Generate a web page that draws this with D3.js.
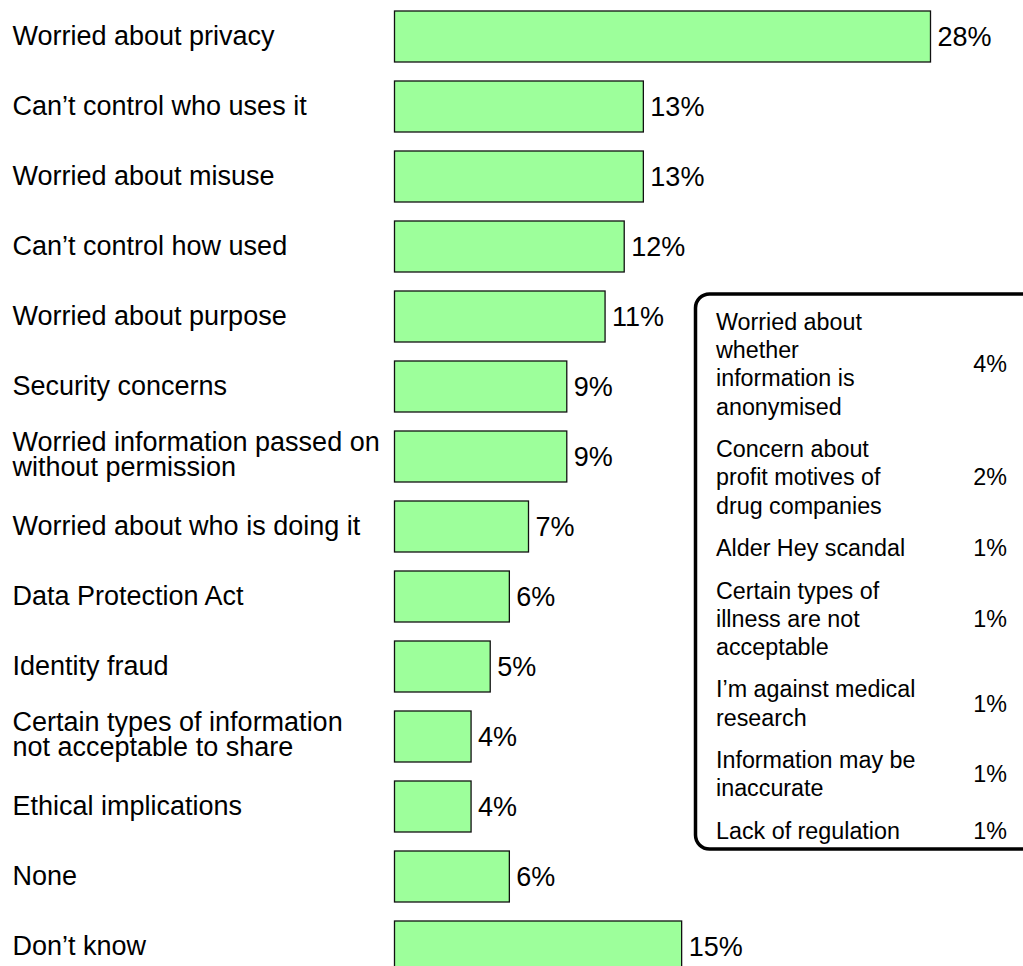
<!DOCTYPE html>
<html>
<head>
<meta charset="utf-8">
<title>Concerns about sharing information</title>
<script src="https://cdn.jsdelivr.net/npm/d3@7/dist/d3.min.js"></script>
<style>
  * { margin: 0; padding: 0; }
  body { background: #fff; overflow: hidden; }
  svg { display: block; font-family: Arial, "Liberation Sans", sans-serif; }
</style>
</head>
<body>
<div id="chart"></div>
<script>
// main bars
var categories = [
  "Worried about privacy",
  "Can’t control who uses it",
  "Worried about misuse",
  "Can’t control how used",
  "Worried about purpose",
  "Security concerns",
  "Worried information passed on\nwithout permission",
  "Worried about who is doing it",
  "Data Protection Act",
  "Identity fraud",
  "Certain types of information\nnot acceptable to share",
  "Ethical implications",
  "None",
  "Don’t know"
];
var values = [28, 13, 13, 12, 11, 9, 9, 7, 6, 5, 4, 4, 6, 15];

// smaller answers listed in the box
var insetLabels = [
  "Worried about\nwhether\ninformation is\nanonymised",
  "Concern about\nprofit motives of\ndrug companies",
  "Alder Hey scandal",
  "Certain types of\nillness are not\nacceptable",
  "I’m against medical\nresearch",
  "Information may be\ninaccurate",
  "Lack of regulation"
];
var insetValues = [4, 2, 1, 1, 1, 1, 1];

var W = 1023, H = 966;
var fs = 27;       // main label size
var fsIn = 23.3;   // box text size

var svg = d3.select("#chart").append("svg")
  .attr("width", W).attr("height", H);

var x = d3.scaleLinear().domain([0, 28]).range([0, 536]);
var y = d3.scaleBand().domain(categories)
  .range([0, categories.length * 70])
  .paddingInner(19 / 70).paddingOuter(19 / 140);

var g = svg.append("g").attr("transform", "translate(394.5,1.5)");

g.selectAll("rect.bar").data(categories).enter().append("rect")
  .attr("class", "bar")
  .attr("x", 0)
  .attr("y", function(d) { return y(d); })
  .attr("width", function(d, i) { return x(values[i]); })
  .attr("height", y.bandwidth())
  .attr("fill", "#9dff9b")
  .attr("stroke", "#111")
  .attr("stroke-width", 1.3);

g.selectAll("text.val").data(categories).enter().append("text")
  .attr("class", "val")
  .attr("x", function(d, i) { return x(values[i]) + 7; })
  .attr("y", function(d) { return y(d) + y.bandwidth() / 2 + 0.35 * fs; })
  .attr("font-size", fs)
  .attr("fill", "#000")
  .text(function(d, i) { return values[i] + "%"; });

// category labels, left side
var lh = 25.5;
svg.append("g").attr("transform", "translate(12.5,1.5)")
  .selectAll("text").data(categories).enter().append("text")
  .attr("font-size", fs)
  .attr("fill", "#000")
  .each(function(d) {
    var lines = d.split("\n");
    var c = y(d) + y.bandwidth() / 2;
    var t = d3.select(this);
    lines.forEach(function(l, i) {
      var off = lines.length > 1 ? (i - (lines.length - 1) / 2) * lh - 2 : 0;
      t.append("tspan").attr("x", 0).attr("y", c + 0.33 * fs + off).text(l);
    });
  });

// box with the rest
var box = svg.append("g");
box.append("rect")
  .attr("x", 695.5).attr("y", 294)
  .attr("width", 420).attr("height", 555)
  .attr("rx", 14).attr("ry", 14)
  .attr("fill", "#fff")
  .attr("stroke", "#000")
  .attr("stroke-width", 3.5);

var lhIn = 28.2, gapIn = 14.3;
var base = 330;
insetLabels.forEach(function(lab, i) {
  var lines = lab.split("\n");
  var t = box.append("text").attr("font-size", fsIn).attr("fill", "#000");
  lines.forEach(function(l, j) {
    t.append("tspan").attr("x", 716).attr("y", base + j * lhIn).text(l);
  });
  box.append("text")
    .attr("font-size", fsIn)
    .attr("text-anchor", "end")
    .attr("x", 1007)
    .attr("y", base + (lines.length - 1) * lhIn / 2)
    .text(insetValues[i] + "%");
  base += lines.length * lhIn + gapIn;
});
</script>
</body>
</html>
